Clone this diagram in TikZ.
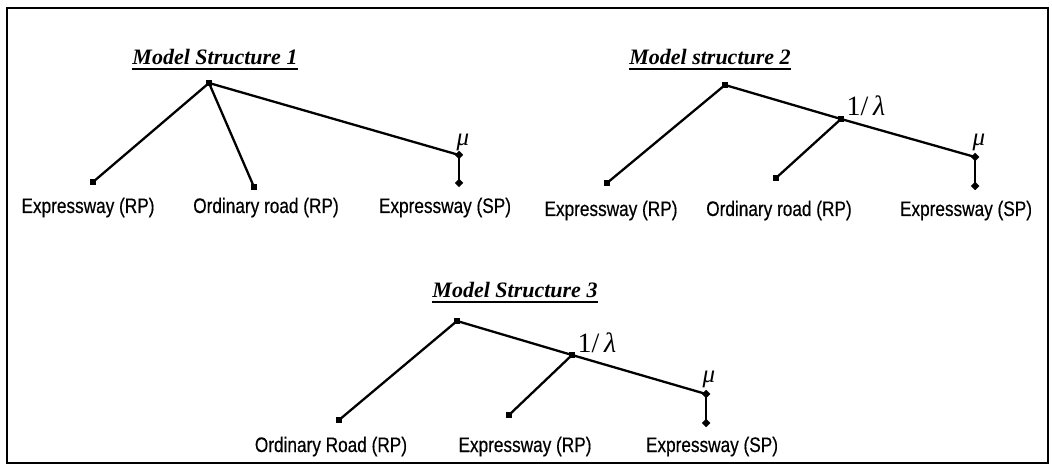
\documentclass[tikz,border=0pt]{standalone}
\usepackage{fontspec}
\setmainfont{Liberation Sans}[FakeStretch=0.82,FakeBold=0.4]
\newfontfamily\titlefont{Liberation Serif}
\newfontfamily\grkfont{Liberation Serif}
\begin{document}
\begin{tikzpicture}[x=1pt,y=-1pt,
  edge/.style={line width=2.3pt},
  sq/.style={rectangle,fill=black,draw=none,minimum size=6.5pt,inner sep=0pt},
  dm/.style={rectangle,fill=black,draw=none,minimum size=6pt,inner sep=0pt,rotate=45},
  lab/.style={anchor=base,inner sep=0pt,font=\fontsize{21}{25}\selectfont},
  ttl/.style={anchor=base,inner sep=0pt,font=\fontsize{22}{26}\selectfont\titlefont\bfseries\itshape},
  greek/.style={inner sep=0pt,font=\fontsize{25}{29}\selectfont\grkfont},
  uline/.style={line width=1.8pt}]
\useasboundingbox (0,0) rectangle (1052,470);
\draw[line width=2.2pt] (7,8) rectangle (1048,463);

% ---------- Model 1 ----------
\node[ttl] (t1) at (215,65) {Model Structure 1};
\draw[uline] ([yshift=-4pt]t1.base west) -- ([yshift=-4pt]t1.base east);
\node[sq] (r1) at (209,83) {};
\node[sq] (a1) at (93,182) {};
\node[sq] (b1) at (254,187) {};
\node[dm] (m1) at (459,155) {};
\node[dm] (c1) at (459,183) {};
\draw[edge] (r1.center) -- (a1.center);
\draw[edge] (r1.center) -- (b1.center);
\draw[edge] (r1.center) -- (m1.center);
\draw[edge] (m1.center) -- (c1.center);
\node[greek] (mu1) at (463,142) {\itshape μ};
\node[lab] (l1a) at (88,213) {Expressway (RP)};
\node[lab] (l1b) at (266,213) {Ordinary road (RP)};
\node[lab] (l1c) at (445,213) {Expressway (SP)};

% ---------- Model 2 ----------
\node[ttl] (t2) at (710,65) {Model structure 2};
\draw[uline] ([yshift=-4pt]t2.base west) -- ([yshift=-4pt]t2.base east);
\node[sq] (r2) at (725,85) {};
\node[sq] (n2) at (841,119) {};
\node[sq] (a2) at (607,183) {};
\node[sq] (b2) at (776,178) {};
\node[dm] (m2) at (975,157) {};
\node[dm] (c2) at (975,186) {};
\draw[edge] (r2.center) -- (a2.center);
\draw[edge] (r2.center) -- (n2.center);
\draw[edge] (n2.center) -- (b2.center);
\draw[edge] (n2.center) -- (m2.center);
\draw[edge] (m2.center) -- (c2.center);
\node[greek,font=\fontsize{28}{32}\selectfont\grkfont] (lam2) at (866,106) {1/\,\textit{λ}};
\node[greek] (mu2) at (979,142) {\itshape μ};
\node[lab] (l2a) at (611,216) {Expressway (RP)};
\node[lab] (l2b) at (779,216) {Ordinary road (RP)};
\node[lab] (l2c) at (966,216) {Expressway (SP)};

% ---------- Model 3 ----------
\node[ttl] (t3) at (515,298) {Model Structure 3};
\draw[uline] ([yshift=-4pt]t3.base west) -- ([yshift=-4pt]t3.base east);
\node[sq] (r3) at (457,321) {};
\node[sq] (n3) at (572,355) {};
\node[sq] (a3) at (339,420) {};
\node[sq] (b3) at (509,415) {};
\node[dm] (m3) at (706,394) {};
\node[dm] (c3) at (706,423) {};
\draw[edge] (r3.center) -- (a3.center);
\draw[edge] (r3.center) -- (n3.center);
\draw[edge] (n3.center) -- (b3.center);
\draw[edge] (n3.center) -- (m3.center);
\draw[edge] (m3.center) -- (c3.center);
\node[greek,font=\fontsize{28}{32}\selectfont\grkfont] (lam3) at (597,343) {1/\,\textit{λ}};
\node[greek] (mu3) at (709,379) {\itshape μ};
\node[lab] (l3a) at (331,452) {Ordinary Road (RP)};
\node[lab] (l3b) at (525,452) {Expressway (RP)};
\node[lab] (l3c) at (712,452) {Expressway (SP)};
\end{tikzpicture}
\end{document}
